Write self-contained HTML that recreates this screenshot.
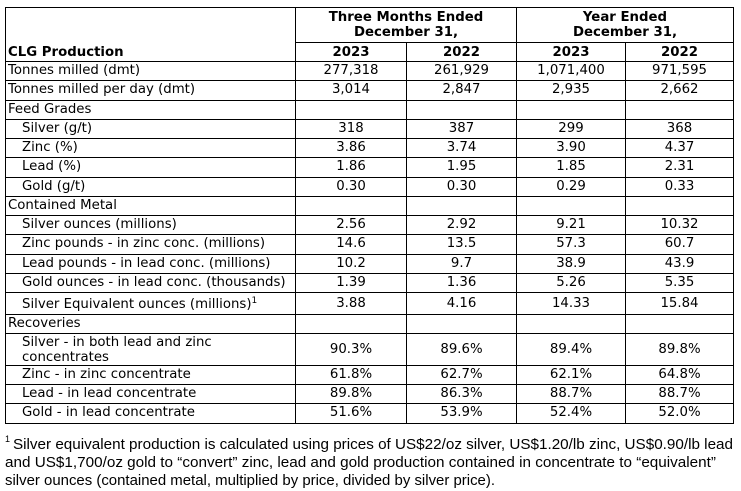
<!DOCTYPE html>
<html><head><meta charset="utf-8"><style>
html,body{margin:0;padding:0;background:#fff}
#c{position:relative;width:741px;height:491px;background:#fff;overflow:hidden;font-family:"DejaVu Sans",Verdana,sans-serif;font-size:13.3px;color:#000}
.h{position:absolute;height:1px;background:#000}
.v{position:absolute;width:1px;background:#000}
.t{position:absolute;white-space:nowrap}
.b{font-weight:bold}
.c{text-align:center}
.l0{left:8px}
.l1{left:22px}
.k1{left:296px;width:110px;text-align:center}
.k2{left:407px;width:109px;text-align:center}
.k3{left:517px;width:108px;text-align:center}
.k4{left:626px;width:107px;text-align:center}
sup{font-size:9px;position:relative;top:-5px;vertical-align:baseline}
</style></head><body>
<div id="c">
<!-- vertical lines -->
<div class="v" style="left:5px;top:7px;height:417px"></div>
<div class="v" style="left:295px;top:7px;height:417px"></div>
<div class="v" style="left:406px;top:42px;height:382px"></div>
<div class="v" style="left:516px;top:7px;height:417px"></div>
<div class="v" style="left:625px;top:42px;height:382px"></div>
<div class="v" style="left:733px;top:7px;height:417px"></div>
<!-- horizontal lines -->
<div class="h" style="left:5px;width:729px;top:7px"></div>
<div class="h" style="left:295px;width:439px;top:42px"></div>
<div class="h" style="left:5px;width:729px;top:61px"></div>
<div class="h" style="left:5px;width:729px;top:80px"></div>
<div class="h" style="left:5px;width:729px;top:100px"></div>
<div class="h" style="left:5px;width:729px;top:119px"></div>
<div class="h" style="left:5px;width:729px;top:138px"></div>
<div class="h" style="left:5px;width:729px;top:157px"></div>
<div class="h" style="left:5px;width:729px;top:177px"></div>
<div class="h" style="left:5px;width:729px;top:196px"></div>
<div class="h" style="left:5px;width:729px;top:215px"></div>
<div class="h" style="left:5px;width:729px;top:234px"></div>
<div class="h" style="left:5px;width:729px;top:254px"></div>
<div class="h" style="left:5px;width:729px;top:273px"></div>
<div class="h" style="left:5px;width:729px;top:292px"></div>
<div class="h" style="left:5px;width:729px;top:314px"></div>
<div class="h" style="left:5px;width:729px;top:333px"></div>
<div class="h" style="left:5px;width:729px;top:365px"></div>
<div class="h" style="left:5px;width:729px;top:384px"></div>
<div class="h" style="left:5px;width:729px;top:403px"></div>
<div class="h" style="left:5px;width:729px;top:423px"></div>

<!-- header -->
<div class="t b c" style="left:296px;width:220px;top:9px;height:18px;line-height:18px">Three Months Ended</div>
<div class="t b c" style="left:296px;width:220px;top:24px;height:18px;line-height:18px">December 31,</div>
<div class="t b c" style="left:517px;width:216px;top:9px;height:18px;line-height:18px">Year Ended</div>
<div class="t b c" style="left:517px;width:216px;top:24px;height:18px;line-height:18px">December 31,</div>
<div class="t b l0" style="top:43px;height:19px;line-height:19px">CLG Production</div>
<div class="t b k1" style="top:43px;height:19px;line-height:19px">2023</div>
<div class="t b k2" style="top:43px;height:19px;line-height:19px">2022</div>
<div class="t b k3" style="top:43px;height:19px;line-height:19px">2023</div>
<div class="t b k4" style="top:43px;height:19px;line-height:19px">2022</div>

<!-- row 1 -->
<div class="t l0" style="top:61px;line-height:20px">Tonnes milled (dmt)</div>
<div class="t k1" style="top:61px;line-height:20px">277,318</div>
<div class="t k2" style="top:61px;line-height:20px">261,929</div>
<div class="t k3" style="top:61px;line-height:20px">1,071,400</div>
<div class="t k4" style="top:61px;line-height:20px">971,595</div>
<!-- row 2 -->
<div class="t l0" style="top:80px;line-height:20px">Tonnes milled per day (dmt)</div>
<div class="t k1" style="top:80px;line-height:20px">3,014</div>
<div class="t k2" style="top:80px;line-height:20px">2,847</div>
<div class="t k3" style="top:80px;line-height:20px">2,935</div>
<div class="t k4" style="top:80px;line-height:20px">2,662</div>
<!-- row 3 -->
<div class="t l0" style="top:100px;line-height:20px">Feed Grades</div>
<!-- row 4 -->
<div class="t l1" style="top:119px;line-height:20px">Silver (g/t)</div>
<div class="t k1" style="top:119px;line-height:20px">318</div>
<div class="t k2" style="top:119px;line-height:20px">387</div>
<div class="t k3" style="top:119px;line-height:20px">299</div>
<div class="t k4" style="top:119px;line-height:20px">368</div>
<!-- row 5 -->
<div class="t l1" style="top:138px;line-height:20px">Zinc (%)</div>
<div class="t k1" style="top:138px;line-height:20px">3.86</div>
<div class="t k2" style="top:138px;line-height:20px">3.74</div>
<div class="t k3" style="top:138px;line-height:20px">3.90</div>
<div class="t k4" style="top:138px;line-height:20px">4.37</div>
<!-- row 6 -->
<div class="t l1" style="top:157px;line-height:20px">Lead (%)</div>
<div class="t k1" style="top:157px;line-height:20px">1.86</div>
<div class="t k2" style="top:157px;line-height:20px">1.95</div>
<div class="t k3" style="top:157px;line-height:20px">1.85</div>
<div class="t k4" style="top:157px;line-height:20px">2.31</div>
<!-- row 7 -->
<div class="t l1" style="top:177px;line-height:20px">Gold (g/t)</div>
<div class="t k1" style="top:177px;line-height:20px">0.30</div>
<div class="t k2" style="top:177px;line-height:20px">0.30</div>
<div class="t k3" style="top:177px;line-height:20px">0.29</div>
<div class="t k4" style="top:177px;line-height:20px">0.33</div>
<!-- row 8 -->
<div class="t l0" style="top:196px;line-height:20px">Contained Metal</div>
<!-- row 9 -->
<div class="t l1" style="top:215px;line-height:20px">Silver ounces (millions)</div>
<div class="t k1" style="top:215px;line-height:20px">2.56</div>
<div class="t k2" style="top:215px;line-height:20px">2.92</div>
<div class="t k3" style="top:215px;line-height:20px">9.21</div>
<div class="t k4" style="top:215px;line-height:20px">10.32</div>
<!-- row 10 -->
<div class="t l1" style="top:234px;line-height:20px">Zinc pounds - in zinc conc. (millions)</div>
<div class="t k1" style="top:234px;line-height:20px">14.6</div>
<div class="t k2" style="top:234px;line-height:20px">13.5</div>
<div class="t k3" style="top:234px;line-height:20px">57.3</div>
<div class="t k4" style="top:234px;line-height:20px">60.7</div>
<!-- row 11 -->
<div class="t l1" style="top:254px;line-height:20px">Lead pounds - in lead conc. (millions)</div>
<div class="t k1" style="top:254px;line-height:20px">10.2</div>
<div class="t k2" style="top:254px;line-height:20px">9.7</div>
<div class="t k3" style="top:254px;line-height:20px">38.9</div>
<div class="t k4" style="top:254px;line-height:20px">43.9</div>
<!-- row 12 -->
<div class="t l1" style="top:273px;line-height:20px">Gold ounces - in lead conc. (thousands)</div>
<div class="t k1" style="top:273px;line-height:20px">1.39</div>
<div class="t k2" style="top:273px;line-height:20px">1.36</div>
<div class="t k3" style="top:273px;line-height:20px">5.26</div>
<div class="t k4" style="top:273px;line-height:20px">5.35</div>
<!-- row 13 -->
<div class="t l1" style="top:294px;line-height:22px">Silver Equivalent ounces (millions)<sup>1</sup></div>
<div class="t k1" style="top:293px;line-height:22px">3.88</div>
<div class="t k2" style="top:293px;line-height:22px">4.16</div>
<div class="t k3" style="top:293px;line-height:22px">14.33</div>
<div class="t k4" style="top:293px;line-height:22px">15.84</div>
<!-- row 14 -->
<div class="t l0" style="top:314px;line-height:20px">Recoveries</div>
<!-- row 15 -->
<div class="t l1" style="top:334px;line-height:17px">Silver - in both lead and zinc</div>
<div class="t l1" style="top:349px;line-height:17px">concentrates</div>
<div class="t k1" style="top:333px;line-height:33px">90.3%</div>
<div class="t k2" style="top:333px;line-height:33px">89.6%</div>
<div class="t k3" style="top:333px;line-height:33px">89.4%</div>
<div class="t k4" style="top:333px;line-height:33px">89.8%</div>
<!-- row 16 -->
<div class="t l1" style="top:365px;line-height:20px">Zinc - in zinc concentrate</div>
<div class="t k1" style="top:365px;line-height:20px">61.8%</div>
<div class="t k2" style="top:365px;line-height:20px">62.7%</div>
<div class="t k3" style="top:365px;line-height:20px">62.1%</div>
<div class="t k4" style="top:365px;line-height:20px">64.8%</div>
<!-- row 17 -->
<div class="t l1" style="top:384px;line-height:20px">Lead - in lead concentrate</div>
<div class="t k1" style="top:384px;line-height:20px">89.8%</div>
<div class="t k2" style="top:384px;line-height:20px">86.3%</div>
<div class="t k3" style="top:384px;line-height:20px">88.7%</div>
<div class="t k4" style="top:384px;line-height:20px">88.7%</div>
<!-- row 18 -->
<div class="t l1" style="top:403px;line-height:20px">Gold - in lead concentrate</div>
<div class="t k1" style="top:403px;line-height:20px">51.6%</div>
<div class="t k2" style="top:403px;line-height:20px">53.9%</div>
<div class="t k3" style="top:403px;line-height:20px">52.4%</div>
<div class="t k4" style="top:403px;line-height:20px">52.0%</div>

<!-- footnote -->
<svg style="position:absolute;left:0;top:0" width="741" height="491" xmlns="http://www.w3.org/2000/svg">
<g font-family="Liberation Sans, Arial, sans-serif" font-size="15" fill="#000">
<text x="5" y="442" font-size="9">1</text>
<text x="13" y="449" textLength="720" lengthAdjust="spacingAndGlyphs">Silver equivalent production is calculated using prices of US$22/oz silver, US$1.20/lb zinc, US$0.90/lb lead</text>
<text x="5" y="467" textLength="711" lengthAdjust="spacingAndGlyphs">and US$1,700/oz gold to “convert” zinc, lead and gold production contained in concentrate to “equivalent”</text>
<text x="5" y="485" textLength="490" lengthAdjust="spacingAndGlyphs">silver ounces (contained metal, multiplied by price, divided by silver price).</text>
</g>
</svg>
</div>
</body></html>
